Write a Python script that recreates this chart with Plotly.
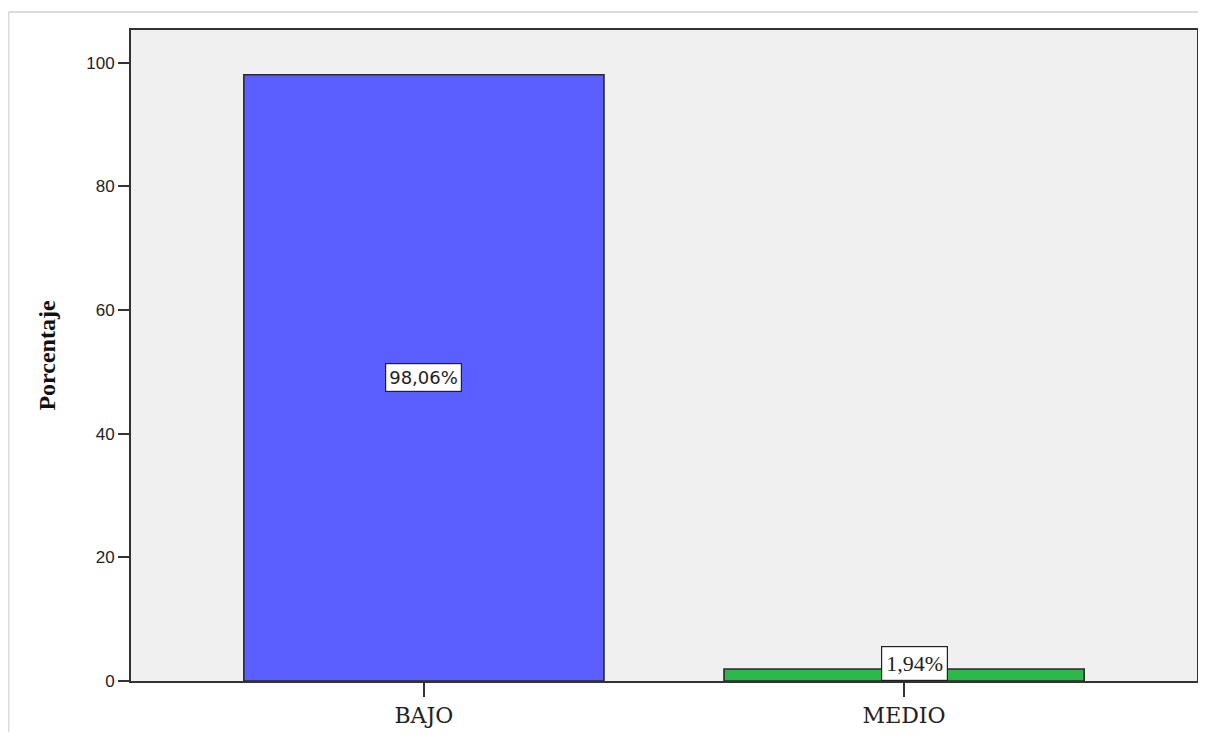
import plotly.graph_objects as go

categories = ["BAJO", "MEDIO"]
values = [98.06, 1.94]
labels = ["98,06%", "1,94%"]
colors = ["#5b5fff", "#2db84a"]
y_ticks = [0, 20, 40, 60, 80, 100]

fig = go.Figure()
fig.add_trace(go.Bar(
    x=categories, y=values, width=0.75,
    marker=dict(color=colors, line=dict(color="#2a2a2a", width=1.6)),
    hoverinfo="skip",
))

# value labels
fig.add_annotation(x=categories[0], y=values[0] / 2, text=labels[0], showarrow=False,
                   bgcolor="white", bordercolor="#222", borderwidth=1.2, borderpad=3,
                   font=dict(family="DejaVu Sans", size=18, color="#222"))
fig.add_annotation(x=categories[1], y=0, yanchor="bottom", xshift=10, text=labels[1], showarrow=False,
                   bgcolor="white", bordercolor="#222", borderwidth=1.2, borderpad=4,
                   font=dict(family="Liberation Serif", size=22, color="#222"))

# outer frame (light gray)
fig.add_shape(type="line", xref="paper", yref="paper",
              x0=-0.1149, x1=1.01, y0=1.0276, y1=1.0276,
              line=dict(color="#dcdcdc", width=2), layer="below")
fig.add_shape(type="line", xref="paper", yref="paper",
              x0=-0.1149, x1=-0.1149, y0=-0.2, y1=1.0276,
              line=dict(color="#dcdcdc", width=2), layer="below")

fig.update_layout(
    width=1190, height=724,
    margin=dict(l=123, r=1, t=22, b=51),
    paper_bgcolor="white", plot_bgcolor="#f0f0f0",
    showlegend=False,
    xaxis=dict(range=[-0.61, 1.61], showline=True, linecolor="#333", linewidth=2, mirror=True,
               ticks="outside", ticklen=14, tickwidth=1.5, tickcolor="#333",
               tickfont=dict(family="DejaVu Serif", size=22, color="#222"),
               showgrid=False, zeroline=False, fixedrange=True, automargin=False),
    yaxis=dict(range=[0, 105.3], tickvals=y_ticks, showline=True, linecolor="#333", linewidth=2, mirror=True,
               ticks="outside", ticklen=11, tickwidth=1.5, tickcolor="#333",
               tickfont=dict(family="Liberation Sans", size=17, color="#222"),
               showgrid=False, zeroline=False, automargin=False,
               title=dict(text="<b>Porcentaje</b>", font=dict(family="Liberation Serif", size=24, color="#111"), standoff=24)),
)

fig.write_html("out.html")
